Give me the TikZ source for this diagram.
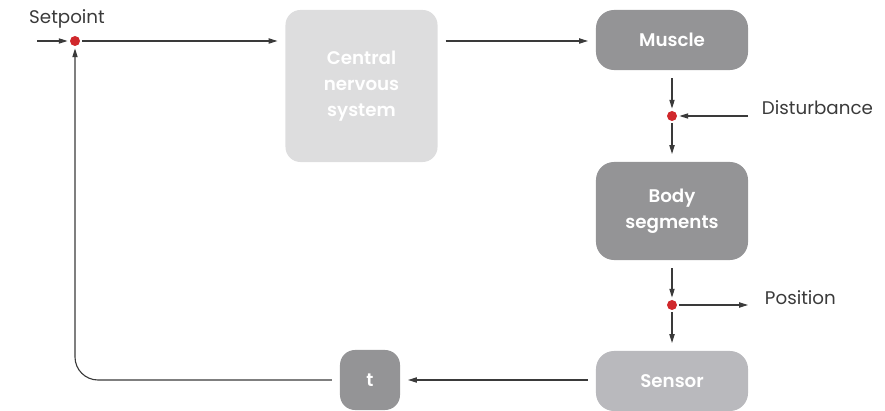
\documentclass[tikz,border=0pt]{standalone}
\usepackage{fontspec}
\setmainfont{Poppins}[BoldFont={* SemiBold}]
\usetikzlibrary{arrows.meta}
\definecolor{cnsgray}{HTML}{DDDDDE}
\definecolor{darkgray}{HTML}{949496}
\definecolor{sensorgray}{HTML}{B9B9BD}
\definecolor{dotred}{HTML}{D0282C}
\definecolor{linegray}{HTML}{3A3A3A}

\tikzset{block/.style={rectangle, rounded corners=0.45cm, fill=darkgray, text=white, align=center,
    font=\fontsize{13}{18.5}\selectfont\bfseries, minimum width=3.8cm, minimum height=1.5cm, outer sep=0.2cm}}

\begin{document}
\begin{tikzpicture}[x=0.025cm,y=-0.025cm,
	every node/.style={text=linegray, font=\fontsize{13}{15}\selectfont},
	dot/.style={circle, fill=dotred, inner sep=0pt, minimum size=0.25cm, outer sep=0.06cm},
	>={Triangle[length=0.22cm,width=0.13cm]}]
		\useasboundingbox (0,0) rectangle (885,411);

		\node[dot] (sum) at (75,41) {};
		\coordinate (in) at (37,41);
		\node (setpoint) at (67,19) {Setpoint};

		\node[block, fill=cnsgray, minimum height=3.8cm, rounded corners=0.375cm] (cns) at (361.5,86) {Central\\nervous\\system};
		\node[block] (muscle) at (672,40) {Muscle};

		\node[dot] (mix) at (672,116) {};
		\coordinate (dist) at (748,116);
		\node[anchor=west] (disturbance) at (757,108) {Disturbance};

		\node[block, minimum height=2.45cm] (body) at (672,211) {Body\\segments};

		\node[dot] (split) at (672,305) {};
		\coordinate (pos) at (748,305);
		\node[anchor=west] (position) at (760,298) {Position};

		\node[block, fill=sensorgray] (sensor) at (672,381) {Sensor};
		\node[block, minimum width=1.5cm, rounded corners=0.375cm] (delay) at (370,380) {t};

		\begin{scope}[draw=linegray, line width=0.8pt]
		\draw[->] (in) -- (sum);
		\draw[->] (sum) -- (cns.west |- sum);
		\draw[->] (cns.east |- sum) -- (muscle.west |- sum);
		\draw[->] (muscle) -- (mix);
		\draw[->] (dist) -- (mix);
		\draw[->] (mix) -- (body);
		\draw[->] (body) -- (split);
		\draw[->] (split) -- (pos);
		\draw[->] (split) -- (sensor);
		\draw[->] (sensor.west |- delay) -- (delay);
		\draw[->, rounded corners=0.575cm] (delay) -| (sum);
		\end{scope}
	\end{tikzpicture}
\end{document}
